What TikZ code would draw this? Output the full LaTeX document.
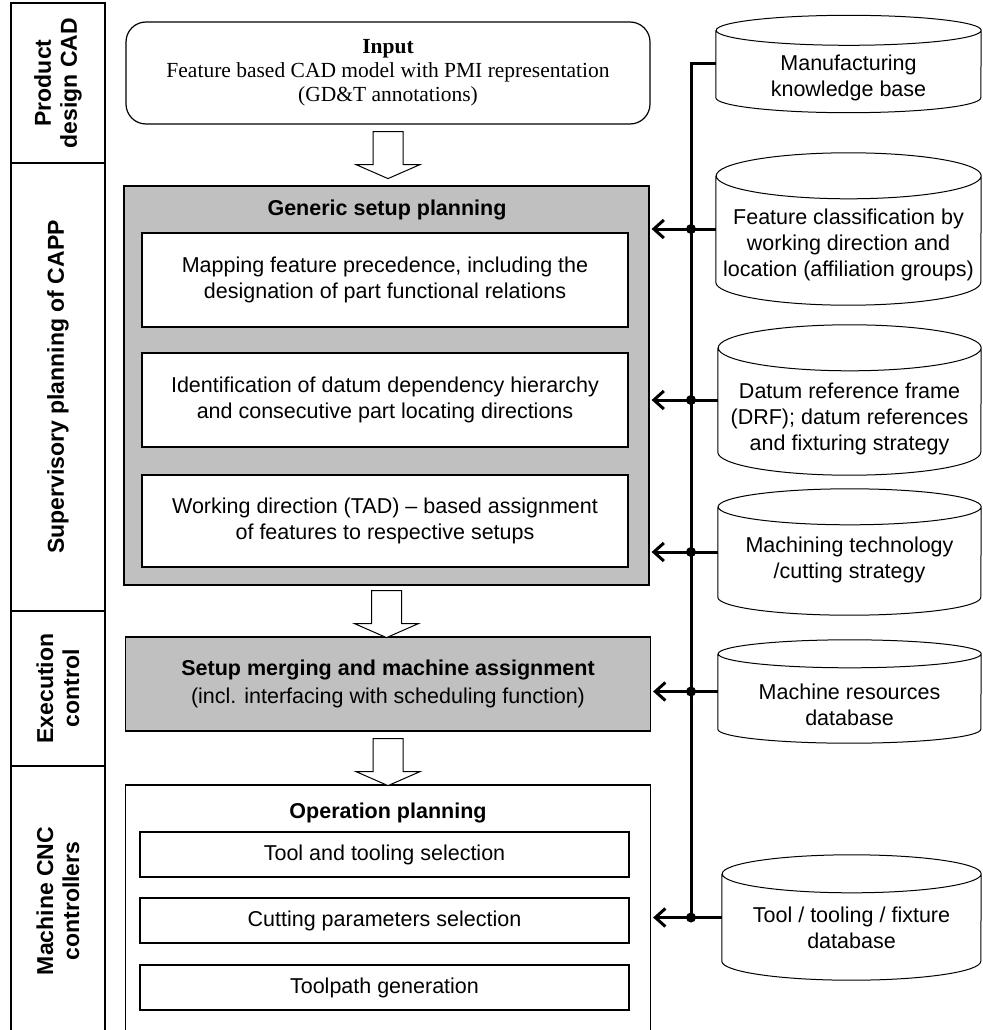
\documentclass[tikz,border=0pt]{standalone}
\usepackage{fontspec}
\setmainfont{Liberation Sans}
\newfontfamily\timesfont{Liberation Serif}
\usetikzlibrary{arrows.meta,positioning}
\definecolor{panelgray}{RGB}{192,192,192}

\begin{document}
\begin{tikzpicture}[x=1pt,y=-1pt,
  every node/.style={font=\fontsize{21.5}{26}\selectfont,align=center,inner sep=0},
  lane/.style={draw,line width=1.2pt,rotate=90,minimum height=94,font=\bfseries\fontsize{23}{26}\selectfont},
  panel/.style={draw,line width=1.2pt,minimum width=525},
  task/.style={draw,fill=white,line width=1.2pt},
  title/.style={font=\bfseries\fontsize{21.5}{26}\selectfont},
  db/.style={minimum width=263},
  dbline/.style={line width=1pt},
  hollow/.style={draw,fill=white,line width=1pt},
  feed/.style={line width=3pt,shorten >=2pt,-{Straight Barb[length=10pt,width=18pt]}},
  bus/.style={line width=3pt}]
\useasboundingbox (0,0) rectangle (982,1030);
\node[lane,minimum width=160] (lcad) at (58,83) {Product\\design CAD};
\node[lane,minimum width=448] (lcapp) at (58,387) {Supervisory planning of CAPP};
\node[lane,minimum width=155] (lexe) at (58,688.5) {Execution\\control};
\node[lane,minimum width=270] (lcnc) at (58,901) {Machine CNC\\controllers};
\node[draw,line width=1.2pt,rounded corners=20pt,minimum width=524,minimum height=102,font=\timesfont\fontsize{21.5}{24}\selectfont] (input) at (388,73) {\textbf{Input}\\Feature based CAD model with PMI representation\\(GD\&T annotations)};
\node[panel,fill=panelgray,minimum height=399] (gsp) at (386.5,385.5) {};
\node[title] (gspt) at (387,210) {Generic setup planning};
\node[task,minimum width=486,minimum height=94] (fprec) at (385,280) {Mapping feature precedence, including the\\designation of part functional relations};
\node[task,minimum width=486,minimum height=94] (datum) at (385,400) {Identification of datum dependency hierarchy\\and consecutive part locating directions};
\node[task,minimum width=486,minimum height=92] (tad) at (385,521) {Working direction (TAD) -- based assignment\\of features to respective setups};
\node[panel,fill=panelgray,minimum height=94] (smb) at (388,684) {\textbf{Setup merging and machine assignment}\\[2pt](incl. interfacing with scheduling function)};
\node[panel,minimum height=250] (opl) at (388,910) {};
\node[title] (oplt) at (388,813) {Operation planning};
\node[task,minimum width=489,minimum height=45] (tsel) at (384.5,854.5) {Tool and tooling selection};
\node[task,minimum width=489,minimum height=45] (csel) at (384.5,920.5) {Cutting parameters selection};
\node[task,minimum width=489,minimum height=45] (tpg) at (384.5,987.5) {Toolpath generation};
\node[db,minimum width=265,minimum height=97,label={[yshift=-14pt]center:Manufacturing\\knowledge base}] (mkb) at (848.5,64) {};
\node[db,minimum width=265,minimum height=152,label={[yshift=-16pt]center:Feature classification by\\working direction and\\location (affiliation groups)}] (fcl) at (848.5,229) {};
\node[db,minimum height=150,label={[yshift=-19pt]center:Datum reference frame\\(DRF); datum references\\and fixturing strategy}] (drf) at (849.5,400) {};
\node[db,minimum height=126,label={[yshift=-8pt]center:Machining technology\\/cutting strategy}] (mtc) at (849.5,552) {};
\node[db,minimum height=103,label={[yshift=-13pt]center:Machine resources\\database}] (mrd) at (849.5,691.5) {};
\node[db,minimum width=259,minimum height=125,label={[yshift=-10pt]center:Tool / tooling / fixture\\database}] (ttf) at (851.5,917.5) {};
\foreach \n/\ry/\rx in {mkb/15/132.5,fcl/23/132.5,drf/23/131.5,mtc/18/131.5,mrd/14/131.5,ttf/19/129.5}
  \draw[dbline] ([yshift=-\ry pt]\n.north west) -- ([yshift=\ry pt]\n.south west) arc[start angle=180,end angle=360,x radius=\rx pt,y radius=\ry pt] -- ([yshift=-\ry pt]\n.north east) arc[start angle=0,end angle=360,x radius=\rx pt,y radius=\ry pt];
\draw[hollow] ([xshift=-15pt,yshift=-7pt]input.south) -- ++(0,33) -- ++(-17,0) -- ++(32,14) -- ++(32,-14) -- ++(-17,0) -- ++(0,-33) -- cycle;
\draw[hollow] ([xshift=-15pt,yshift=-5pt]gsp.south) -- ++(0,33) -- ++(-17,0) -- ++(32,14) -- ++(32,-14) -- ++(-17,0) -- ++(0,-33) -- cycle;
\draw[hollow] ([xshift=-15pt,yshift=-7pt]smb.south) -- ++(0,33) -- ++(-17,0) -- ++(32,14) -- ++(32,-14) -- ++(-17,0) -- ++(0,-33) -- cycle;
\coordinate (bus) at (691,0);
\draw[bus] (mkb.west) -| (bus |- ttf.west);
\foreach \n/\b in {fcl/gsp,drf/gsp,mtc/gsp,mrd/smb,ttf/opl}{
  \draw[feed] (\n.west) -- (\n.west -| \b.east);
  \fill (\n.west -| bus) circle[radius=5pt];
}
\end{tikzpicture}
\end{document}
